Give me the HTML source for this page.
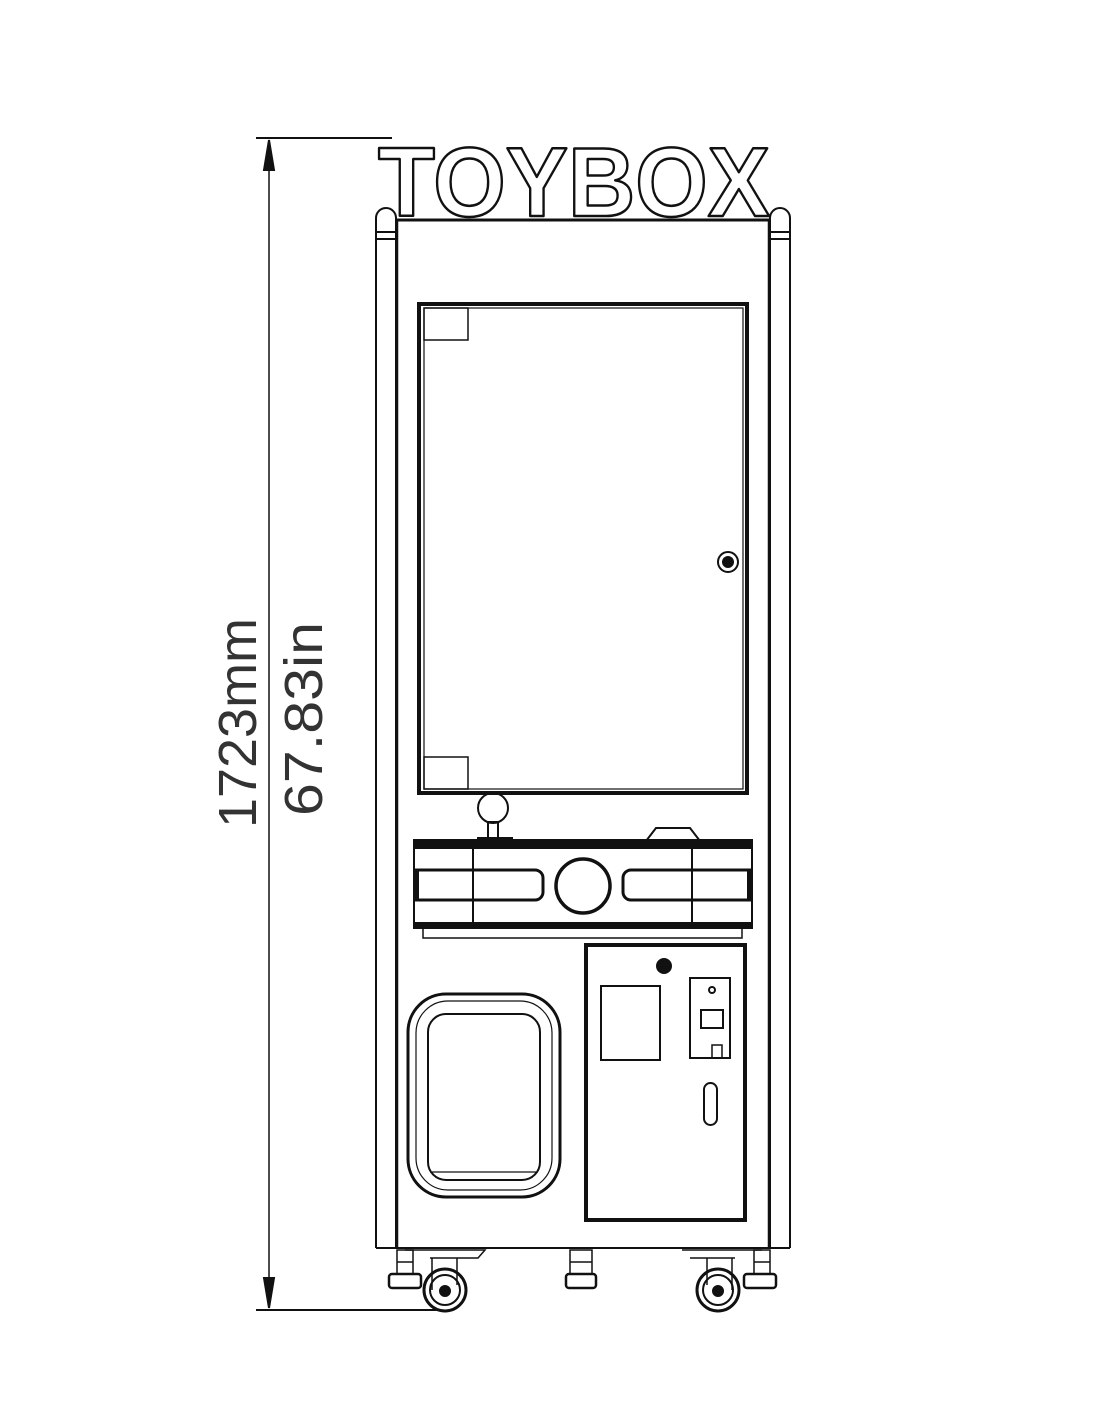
<!DOCTYPE html>
<html><head><meta charset="utf-8"><style>
html,body{margin:0;padding:0;background:#fff;}
svg{display:block;}
text{font-family:"Liberation Sans","DejaVu Sans",sans-serif;}
</style></head><body>
<svg width="1096" height="1419" viewBox="0 0 1096 1419" xmlns="http://www.w3.org/2000/svg" fill="none" stroke="#111" stroke-width="2">
<!-- dimension -->
<line x1="256" y1="138" x2="392" y2="138"/>
<line x1="256" y1="1310" x2="440" y2="1310"/>
<line x1="269" y1="140" x2="269" y2="1308" stroke-width="1.5"/>
<path d="M269 140 L264 170 L274 170 Z" fill="#111"/>
<path d="M269 1308 L264 1278 L274 1278 Z" fill="#111"/>
<text transform="translate(256,723) rotate(-90)" text-anchor="middle" font-size="54" fill="#333" stroke="none" font-weight="300" textLength="210" lengthAdjust="spacingAndGlyphs">1723mm</text>
<text transform="translate(322,719) rotate(-90)" text-anchor="middle" font-size="54" fill="#333" stroke="none" textLength="194" lengthAdjust="spacingAndGlyphs">67.83in</text>
<!-- logo -->
<text x="378" y="216" font-size="98" font-weight="bold" fill="#fff" stroke="#111" stroke-width="2.5" textLength="392" lengthAdjust="spacingAndGlyphs" stroke-linejoin="round">TOYBOX</text>
<!-- posts -->
<path d="M376 1248 V218 A10 10 0 0 1 396 218 V1248" />
<line x1="376" y1="232" x2="396" y2="232"/><line x1="376" y1="239" x2="396" y2="239"/>
<path d="M770 1248 V218 A10 10 0 0 1 790 218 V1248" />
<line x1="770" y1="232" x2="790" y2="232"/><line x1="770" y1="239" x2="790" y2="239"/>
<!-- cabinet -->
<line x1="396" y1="220" x2="770" y2="220" stroke-width="3"/>
<line x1="397" y1="220" x2="397" y2="1248" stroke-width="2.5"/>
<line x1="769" y1="220" x2="769" y2="1248" stroke-width="2.5"/>
<line x1="376" y1="1248" x2="790" y2="1248" stroke-width="2"/>
<!-- window -->
<rect x="419" y="304" width="328" height="489" stroke-width="4"/>
<rect x="424" y="308" width="319" height="481" stroke-width="1.2"/>
<rect x="424" y="308" width="44" height="32" stroke-width="1.5"/>
<rect x="424" y="757" width="44" height="32" stroke-width="1.5"/>
<circle cx="728" cy="562" r="10" stroke-width="2"/>
<circle cx="728" cy="562" r="5" fill="#111"/>
<!-- joystick -->
<circle cx="493" cy="808" r="15"/>
<rect x="488" y="822" width="10" height="18"/>
<rect x="478" y="838" width="34" height="4" fill="#111"/>
<!-- button -->
<path d="M646 841 L656 828 H690 L700 841 Z"/>
<!-- control panel -->
<rect x="414" y="840" width="338" height="8" fill="#111"/>
<rect x="414" y="840" width="338" height="88" stroke-width="2"/>
<rect x="414" y="923" width="338" height="5" fill="#111"/>
<line x1="473" y1="846" x2="473" y2="925"/>
<line x1="692" y1="846" x2="692" y2="925"/>
<path d="M415 870 H535 A8 8 0 0 1 543 878 V892 A8 8 0 0 1 535 900 H415 Z" stroke-width="3"/>
<path d="M751 870 H631 A8 8 0 0 0 623 878 V892 A8 8 0 0 0 631 900 H751 Z" stroke-width="3"/>
<rect x="414" y="872" width="4" height="26" fill="#111"/>
<rect x="748" y="872" width="4" height="26" fill="#111"/>
<circle cx="583" cy="886" r="27" stroke-width="3.5"/>
<path d="M423 928 V938 H742 V928" stroke-width="1.5"/>
<!-- coin door -->
<rect x="586" y="945" width="159" height="275" stroke-width="4"/>
<circle cx="664" cy="966" r="7" fill="#111"/>
<rect x="601" y="986" width="59" height="74" stroke-width="2"/>
<rect x="690" y="978" width="40" height="80" stroke-width="2"/>
<rect x="701" y="1010" width="22" height="18" stroke-width="2"/>
<rect x="712" y="1045" width="10" height="13" stroke-width="1.5"/>
<circle cx="712" cy="990" r="3"/>
<rect x="704" y="1083" width="13" height="42" rx="6.5" stroke-width="2"/>
<!-- left frame -->
<rect x="408" y="994" width="152" height="203" rx="38" stroke-width="3"/>
<rect x="416" y="1001" width="136" height="189" rx="32" stroke-width="1.2"/>
<rect x="428" y="1014" width="112" height="166" rx="18" stroke-width="2"/>
<line x1="432" y1="1172" x2="536" y2="1172" stroke-width="1.2"/>
<!-- feet -->
<g stroke-width="1.5">
<rect x="397" y="1250" width="16" height="24"/><line x1="397" y1="1262" x2="413" y2="1262"/>
<rect x="389" y="1274" width="32" height="14" rx="3" stroke-width="2.5"/>
<rect x="570" y="1250" width="22" height="24"/><line x1="570" y1="1262" x2="592" y2="1262"/>
<rect x="566" y="1274" width="30" height="14" rx="3" stroke-width="2.5"/>
<rect x="754" y="1250" width="16" height="24"/><line x1="754" y1="1262" x2="770" y2="1262"/>
<rect x="744" y="1274" width="32" height="14" rx="3" stroke-width="2.5"/>
<path d="M405 1250 H485 L478 1258 H430"/>
<path d="M682 1250 H762 M690 1258 H735" />
<line x1="432" y1="1258" x2="432" y2="1290"/><line x1="457" y1="1258" x2="457" y2="1285"/>
<line x1="707" y1="1258" x2="707" y2="1285"/><line x1="732" y1="1258" x2="732" y2="1290"/>
</g>
<circle cx="445" cy="1290" r="21" stroke-width="3"/><circle cx="445" cy="1290" r="15"/><circle cx="445" cy="1291" r="5" fill="#111"/>
<circle cx="718" cy="1290" r="21" stroke-width="3"/><circle cx="718" cy="1290" r="15"/><circle cx="718" cy="1291" r="5" fill="#111"/>
</svg>
</body></html>
